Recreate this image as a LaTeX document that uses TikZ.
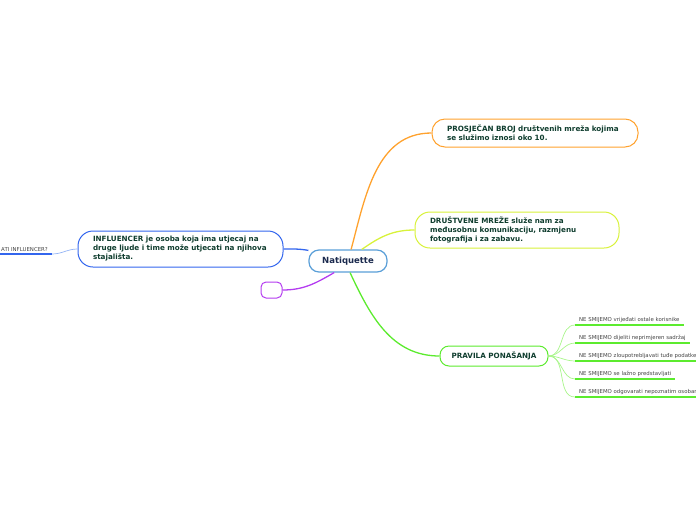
\documentclass[tikz,border=0pt]{standalone}
\usepackage{fontspec}
\setmainfont{DejaVu Sans}
\usetikzlibrary{calc, positioning}

\definecolor{txtgreen}{HTML}{0F3D2E}
\definecolor{rootblue}{HTML}{5A9FD8}
\definecolor{rootnavy}{HTML}{1B2A4E}
\definecolor{avgorange}{HTML}{FFA22E}
\definecolor{socyellow}{HTML}{D8F23A}
\definecolor{rulegreen}{HTML}{5CEB2E}
\definecolor{leafgreen}{HTML}{A8F58A}
\definecolor{inflblue}{HTML}{3366EE}
\definecolor{infllight}{HTML}{94B4F5}
\definecolor{emptypurple}{HTML}{B43CF0}
\definecolor{leafgray}{HTML}{444444}

\begin{document}
\begin{tikzpicture}[x=1pt, y=-1pt,
  topic/.style={draw, fill=white, line width=1pt, align=left, inner xsep=15pt, inner ysep=0pt,
    font=\fontsize{7.2}{9}\selectfont\bfseries, text=txtgreen},
  leaf/.style={inner xsep=4pt, inner ysep=2pt, font=\fontsize{5.4}{6.5}\selectfont, text=leafgray},
  branch/.style={line width=1.3pt},
  twig/.style={line width=0.7pt, leafgreen}]

  \useasboundingbox (0,0) rectangle (696,520);
  \clip (0,0) rectangle (696,520);

  % Central topic
  \node[draw=rootblue, fill=white, line width=1.2pt, rounded corners=10pt,
        minimum width=78pt, minimum height=22pt, inner sep=0pt,
        font=\fontsize{8.5}{10}\selectfont\bfseries, text=rootnavy] (root) at (348,261) {Natiquette};

  % Main topics
  \node[topic, draw=avgorange, rounded corners=13pt, text width=176pt, minimum height=28pt] (avg) at (535,133)
    {PROSJEČAN BROJ društvenih mreža kojima\\se služimo iznosi oko 10.};
  \node[topic, draw=socyellow, rounded corners=15pt, text width=174pt, minimum height=36pt] (soc) at (517,230)
    {DRUŠTVENE MREŽE služe nam za\\međusobnu komunikaciju, razmjenu\\fotografija i za zabavu.};
  \node[topic, draw=rulegreen, rounded corners=9pt, align=center, inner xsep=0pt,
        minimum width=108pt, minimum height=20pt] (rules) at (494,356) {PRAVILA PONAŠANJA};
  \node[topic, draw=inflblue, rounded corners=15pt, text width=175pt, minimum height=36pt] (infl) at (180.5,249)
    {INFLUENCER je osoba koja ima utjecaj na\\druge ljude i time može utjecati na njihova\\stajališta.};
  \node[draw=emptypurple, fill=white, line width=1pt, rounded corners=5pt,
        minimum width=21pt, minimum height=16pt, inner sep=0pt] (blank) at (271.5,290) {};

  % Branches from the centre
  \draw[branch, avgorange] (root.75) to[out=75, in=180] (avg.west);
  \draw[branch, socyellow] (root.40) to[out=35, in=180] (soc.west);
  \draw[branch, rulegreen] (root.-80) to[out=-65, in=180] (rules.west);
  \draw[branch, inflblue] (root.165) to[out=170, in=0] (infl.east);
  \draw[branch, emptypurple] (root.-140) to[out=-150, in=0] (blank.east);

  % Rules
  \node[leaf, anchor=south west] (rule1) at (575,325) {NE SMIJEMO vrijeđati ostale korisnike};
  \node[leaf, anchor=south west] (rule2) at (575,343) {NE SMIJEMO dijeliti neprimjeren sadržaj};
  \node[leaf, anchor=south west] (rule3) at (575,361) {NE SMIJEMO zloupotrebljavati tuđe podatke};
  \node[leaf, anchor=south west] (rule4) at (575,379) {NE SMIJEMO se lažno predstavljati};
  \node[leaf, anchor=south west] (rule5) at (575,397) {NE SMIJEMO odgovarati nepoznatim osobama};

  \foreach \r in {rule1, rule2, rule3, rule4, rule5} {
    \draw[twig] (rules.east) to[out=0, in=180] (\r.south west);
    \draw[line width=1.2pt, rulegreen] (\r.south west) -- (\r.south east);
  }

  % Question on the left
  \node[leaf, anchor=south east] (ask) at (52,254) {ATI INFLUENCER?};
  \draw[line width=0.7pt, infllight] (infl.west) to[out=180, in=0] (ask.south east);
  \draw[line width=1.5pt, inflblue] (ask.south east) -- ($(ask.south west)+(-5,0)$);
\end{tikzpicture}
\end{document}
